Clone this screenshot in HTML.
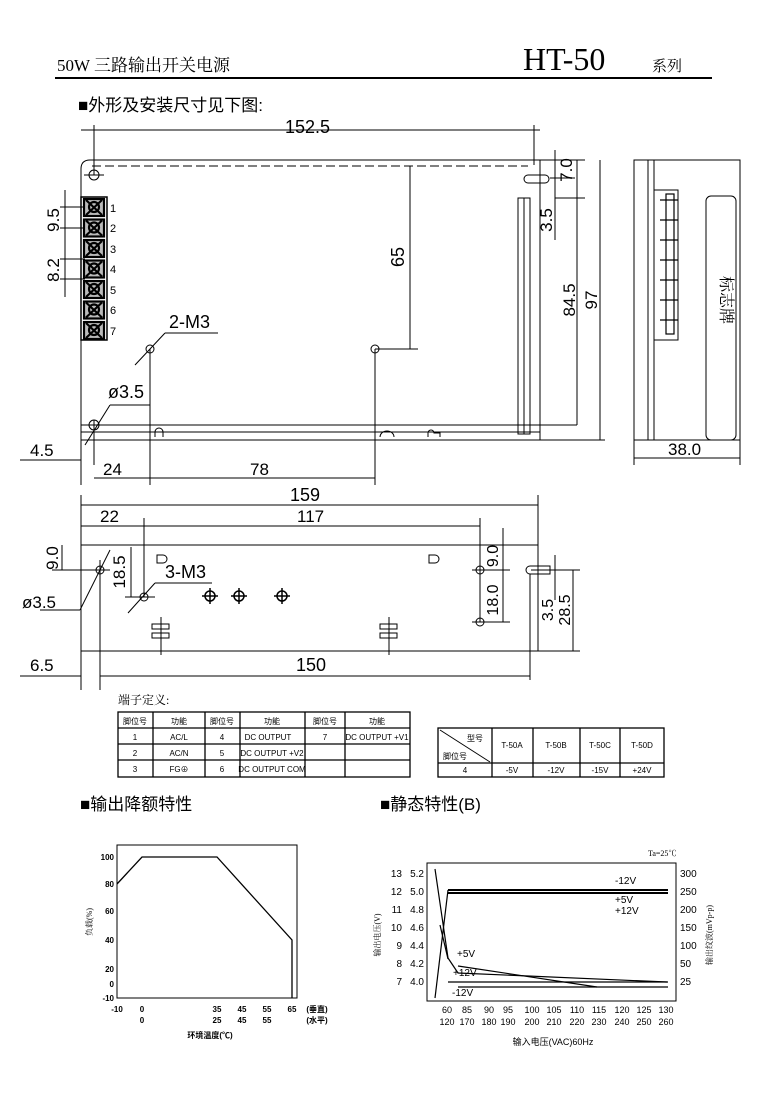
<!DOCTYPE html>
<html><head><meta charset="utf-8"><style>
body{margin:0;background:#fff}
svg{display:block}
text{font-family:"Liberation Sans","Noto Sans CJK SC",sans-serif;fill:#000}
.s{font-family:"Liberation Serif","Noto Serif CJK SC",serif}
</style></head><body>
<svg width="778" height="1101" viewBox="0 0 778 1101" xmlns="http://www.w3.org/2000/svg" stroke="#000" fill="none" stroke-width="1">
<!-- header -->
<text x="57" y="71" font-size="17" class="s" stroke="none">50W 三路输出开关电源</text>
<text x="523" y="70" font-size="32" class="s" stroke="none">HT-50</text>
<text x="652" y="71" font-size="15" class="s" stroke="none">系列</text>
<line x1="55" y1="78" x2="712" y2="78" stroke-width="2"/>
<text x="78" y="111" font-size="17" stroke="none">■外形及安装尺寸见下图:</text>

<!-- top view -->
<line x1="81" y1="130" x2="540" y2="130"/>
<line x1="94" y1="125" x2="94" y2="175"/>
<line x1="534" y1="125" x2="534" y2="165"/>
<text x="285" y="133" font-size="18" stroke="none">152.5</text>
<path d="M90 160 H540 V440 H81 V169 Q81 160 90 160 Z"/>
<line x1="92" y1="166" x2="528" y2="166" stroke-dasharray="9 4"/>
<circle cx="94" cy="175" r="5"/><line x1="84" y1="175" x2="104" y2="175"/>
<rect x="81" y="197" width="26" height="143" stroke-width="1.5"/>
<g stroke-width="2.2">
<g id="t"><rect x="84" y="199" width="20" height="17" fill="#bbb"/><line x1="86" y1="200" x2="102" y2="215"/><line x1="102" y1="200" x2="86" y2="215"/><circle cx="94" cy="207" r="5"/></g>
<use href="#t" y="20.5"/><use href="#t" y="41"/><use href="#t" y="61.5"/><use href="#t" y="82"/><use href="#t" y="102.5"/><use href="#t" y="123"/>
</g>
<g font-size="11" class="s" stroke="none"><text x="110" y="212">1</text><text x="110" y="232">2</text><text x="110" y="253">3</text><text x="110" y="273">4</text><text x="110" y="294">5</text><text x="110" y="314">6</text><text x="110" y="335">7</text></g>
<line x1="60" y1="207" x2="85" y2="207"/><line x1="60" y1="228" x2="85" y2="228"/>
<line x1="60" y1="259" x2="85" y2="259"/><line x1="60" y1="279" x2="85" y2="279"/>
<line x1="65" y1="190" x2="65" y2="297"/>
<text transform="translate(59,220) rotate(-90)" font-size="17" stroke="none" text-anchor="middle">9.5</text>
<text transform="translate(59,270) rotate(-90)" font-size="17" stroke="none" text-anchor="middle">8.2</text>
<line x1="81" y1="425" x2="540" y2="425"/><line x1="81" y1="432" x2="540" y2="432"/>
<circle cx="94" cy="425" r="5"/><line x1="94" y1="420" x2="94" y2="465"/>
<line x1="85" y1="445" x2="110" y2="405"/><line x1="110" y1="405" x2="150" y2="405"/>
<text x="108" y="398" font-size="18" stroke="none">ø3.5</text>
<circle cx="150" cy="349" r="4"/><line x1="150" y1="349" x2="150" y2="485"/>
<line x1="135" y1="365" x2="165" y2="333"/><line x1="165" y1="333" x2="218" y2="333"/>
<text x="169" y="328" font-size="18" stroke="none">2-M3</text>
<circle cx="375" cy="349" r="4"/><line x1="375" y1="349" x2="375" y2="485"/>
<line x1="375" y1="349" x2="418" y2="349"/><line x1="410" y1="166" x2="410" y2="349"/>
<text transform="translate(404,257) rotate(-90)" font-size="18" stroke="none" text-anchor="middle">65</text>
<path d="M155 437 v-5 a4 4 0 0 1 8 0 v5"/><path d="M380 437 a7 6 0 0 1 14 0"/><path d="M428 437 v-4 a3 3 0 0 1 6 0 h6 v4"/>
<rect x="518" y="198" width="12" height="236"/><line x1="524" y1="198" x2="524" y2="434"/>
<path d="M528 175 h17 a4 4 0 0 1 0 8 h-17 a4 4 0 0 1 0 -8z"/>
<line x1="540" y1="160" x2="585" y2="160"/><line x1="540" y1="440" x2="605" y2="440"/>
<line x1="550" y1="178" x2="575" y2="178"/><line x1="555" y1="198" x2="585" y2="198"/>
<line x1="577" y1="160" x2="577" y2="425"/><line x1="600" y1="160" x2="600" y2="440"/>
<line x1="577" y1="425" x2="540" y2="425"/>
<line x1="555" y1="150" x2="555" y2="240"/>
<text transform="translate(572,170) rotate(-90)" font-size="17" stroke="none" text-anchor="middle">7.0</text>
<text transform="translate(552,220) rotate(-90)" font-size="17" stroke="none" text-anchor="middle">3.5</text>
<text transform="translate(575,300) rotate(-90)" font-size="17" stroke="none" text-anchor="middle">84.5</text>
<text transform="translate(597,300) rotate(-90)" font-size="17" stroke="none" text-anchor="middle">97</text>
<line x1="20" y1="460" x2="81" y2="460"/><line x1="81" y1="440" x2="81" y2="485"/>
<text x="30" y="456" font-size="17" stroke="none">4.5</text>
<line x1="94" y1="478" x2="375" y2="478"/>
<text x="103" y="475" font-size="17" stroke="none">24</text>
<text x="250" y="475" font-size="17" stroke="none">78</text>

<!-- side view -->
<rect x="634" y="160" width="106" height="280"/>
<line x1="648" y1="160" x2="648" y2="440"/><line x1="654" y1="160" x2="654" y2="440"/>
<rect x="654" y="190" width="24" height="150"/>
<g stroke-width="1.2">
<line x1="660" y1="200" x2="678" y2="200"/><line x1="660" y1="220" x2="678" y2="220"/><line x1="660" y1="240" x2="678" y2="240"/><line x1="660" y1="260" x2="678" y2="260"/><line x1="660" y1="280" x2="678" y2="280"/><line x1="660" y1="300" x2="678" y2="300"/><line x1="660" y1="320" x2="678" y2="320"/>
<rect x="666" y="194" width="8" height="140"/>
</g>
<rect x="706" y="196" width="30" height="244" rx="5"/>
<text transform="translate(721,300) rotate(90)" font-size="16" stroke="none" text-anchor="middle" class="s">标志牌</text>
<line x1="634" y1="440" x2="634" y2="465"/><line x1="740" y1="440" x2="740" y2="465"/><line x1="634" y1="458" x2="740" y2="458"/>
<text x="668" y="455" font-size="17" stroke="none">38.0</text>

<!-- bottom view -->
<line x1="81" y1="505" x2="538" y2="505"/><line x1="538" y1="495" x2="538" y2="545"/><line x1="81" y1="495" x2="81" y2="690"/>
<text x="290" y="501" font-size="18" stroke="none">159</text>
<line x1="81" y1="526" x2="480" y2="526"/><line x1="144" y1="518" x2="144" y2="597"/><line x1="480" y1="518" x2="480" y2="622"/>
<text x="100" y="522" font-size="17" stroke="none">22</text>
<text x="297" y="522" font-size="17" stroke="none">117</text>
<rect x="81" y="545" width="457" height="106"/>
<line x1="52" y1="570" x2="110" y2="570"/><circle cx="100" cy="570" r="4"/><line x1="100" y1="560" x2="100" y2="690"/>
<line x1="80" y1="610" x2="110" y2="550"/><line x1="40" y1="610" x2="80" y2="610"/>
<text x="22" y="608" font-size="17" stroke="none">ø3.5</text>
<text transform="translate(58,558) rotate(-90)" font-size="17" stroke="none" text-anchor="middle">9.0</text>
<line x1="62" y1="545" x2="62" y2="570"/>
<circle cx="144" cy="597" r="4"/><line x1="125" y1="597" x2="155" y2="597"/>
<line x1="128" y1="613" x2="155" y2="583"/><line x1="155" y1="583" x2="212" y2="583"/>
<text x="165" y="578" font-size="18" stroke="none">3-M3</text>
<line x1="131" y1="547" x2="131" y2="597"/>
<text transform="translate(125,572) rotate(-90)" font-size="17" stroke="none" text-anchor="middle">18.5</text>
<g stroke-width="1.5"><circle cx="210" cy="596" r="5"/><line x1="202" y1="596" x2="218" y2="596"/><line x1="210" y1="588" x2="210" y2="604"/>
<circle cx="239" cy="596" r="5"/><line x1="231" y1="596" x2="247" y2="596"/><line x1="239" y1="588" x2="239" y2="604"/>
<circle cx="282" cy="596" r="5"/><line x1="274" y1="596" x2="290" y2="596"/><line x1="282" y1="588" x2="282" y2="604"/></g>
<path d="M157 555 h6 a4 4 0 0 1 0 8 h-6z"/><path d="M429 555 h6 a4 4 0 0 1 0 8 h-6z"/>
<rect x="152" y="624" width="17" height="5"/><rect x="152" y="633" width="17" height="5"/><line x1="161" y1="617" x2="161" y2="655"/>
<rect x="380" y="624" width="17" height="5"/><rect x="380" y="633" width="17" height="5"/><line x1="389" y1="617" x2="389" y2="655"/>
<circle cx="480" cy="570" r="4"/><line x1="472" y1="570" x2="510" y2="570"/>
<circle cx="480" cy="622" r="4"/><line x1="472" y1="622" x2="510" y2="622"/>
<line x1="503" y1="528" x2="503" y2="622"/>
<text transform="translate(498,556) rotate(-90)" font-size="16" stroke="none" text-anchor="middle">9.0</text>
<text transform="translate(498,600) rotate(-90)" font-size="16" stroke="none" text-anchor="middle">18.0</text>
<path d="M530 566 h20 v8 h-20 a4 4 0 0 1 0 -8z"/>
<line x1="531" y1="570" x2="545" y2="570"/><line x1="530" y1="574" x2="530" y2="680"/>
<line x1="555" y1="555" x2="555" y2="600"/><line x1="540" y1="570" x2="580" y2="570"/><line x1="538" y1="651" x2="580" y2="651"/>
<line x1="573" y1="570" x2="573" y2="651"/>
<text transform="translate(553,610) rotate(-90)" font-size="16" stroke="none" text-anchor="middle">3.5</text>
<text transform="translate(570,610) rotate(-90)" font-size="16" stroke="none" text-anchor="middle">28.5</text>
<line x1="20" y1="676" x2="81" y2="676"/><line x1="100" y1="676" x2="530" y2="676"/>
<text x="30" y="671" font-size="17" stroke="none">6.5</text>
<text x="296" y="671" font-size="18" stroke="none">150</text>

<!-- tables -->
<text x="118" y="704" font-size="12" class="s" stroke="none">端子定义:</text>
<g stroke-width="1.3">
<rect x="118" y="712" width="292" height="65"/>
<line x1="118" y1="728" x2="410" y2="728"/><line x1="118" y1="744" x2="410" y2="744"/><line x1="118" y1="760" x2="410" y2="760"/>
<line x1="153" y1="712" x2="153" y2="777"/><line x1="205" y1="712" x2="205" y2="777"/><line x1="240" y1="712" x2="240" y2="777"/><line x1="305" y1="712" x2="305" y2="777"/><line x1="345" y1="712" x2="345" y2="777"/>
<rect x="438" y="728" width="226" height="49"/><line x1="438" y1="763" x2="664" y2="763"/>
<line x1="492" y1="728" x2="492" y2="777"/><line x1="533" y1="728" x2="533" y2="777"/><line x1="580" y1="728" x2="580" y2="777"/><line x1="620" y1="728" x2="620" y2="777"/>
<line x1="440" y1="730" x2="490" y2="762" stroke-width="1"/>
</g>
<g font-size="8" class="s" stroke="none" text-anchor="middle">
<text x="135" y="724">脚位号</text><text x="179" y="724">功能</text><text x="222" y="724">脚位号</text><text x="272" y="724">功能</text><text x="325" y="724">脚位号</text><text x="377" y="724">功能</text>
<text x="135" y="740">1</text><text x="179" y="740">AC/L</text><text x="222" y="740">4</text><text x="268" y="740">DC OUTPUT</text><text x="325" y="740">7</text><text x="377" y="740">DC OUTPUT +V1</text>
<text x="135" y="756">2</text><text x="179" y="756">AC/N</text><text x="222" y="756">5</text><text x="272" y="756">DC OUTPUT +V2</text>
<text x="135" y="772">3</text><text x="179" y="772">FG⊕</text><text x="222" y="772">6</text><text x="272" y="772">DC OUTPUT COM</text>
<text x="475" y="741">型号</text><text x="455" y="759">脚位号</text>
<text x="512" y="748">T-50A</text><text x="556" y="748">T-50B</text><text x="600" y="748">T-50C</text><text x="642" y="748">T-50D</text>
<text x="465" y="773">4</text><text x="512" y="773">-5V</text><text x="556" y="773">-12V</text><text x="600" y="773">-15V</text><text x="642" y="773">+24V</text>
</g>

<!-- derating chart -->
<text x="80" y="810" font-size="17" stroke="none">■输出降额特性</text>
<rect x="117" y="845" width="180" height="153"/>
<path d="M117 884 L142 857 L217 857 L292 940 L292 998" stroke-width="1.3"/>
<g font-size="8" class="s" stroke="none" text-anchor="end" font-weight="bold">
<text x="114" y="860">100</text><text x="114" y="887">80</text><text x="114" y="914">60</text><text x="114" y="943">40</text><text x="114" y="972">20</text><text x="114" y="987">0</text><text x="114" y="1001">-10</text>
</g>
<g font-size="8" class="s" stroke="none" text-anchor="middle" font-weight="bold">
<text x="117" y="1012">-10</text><text x="142" y="1012">0</text><text x="217" y="1012">35</text><text x="242" y="1012">45</text><text x="267" y="1012">55</text><text x="292" y="1012">65</text>
<text x="142" y="1023">0</text><text x="217" y="1023">25</text><text x="242" y="1023">45</text><text x="267" y="1023">55</text>
<text x="317" y="1012">(垂直)</text><text x="317" y="1023">(水平)</text>
<text x="210" y="1038">环境温度(℃)</text>
</g>
<text transform="translate(92,922) rotate(-90)" font-size="8" class="s" stroke="none" text-anchor="middle">负载(%)</text>

<!-- static chart -->
<text x="380" y="810" font-size="17" stroke="none">■静态特性(B)</text>
<rect x="427" y="863" width="249" height="138"/>
<text x="648" y="856" font-size="8" class="s" stroke="none">Ta=25℃</text>
<g stroke-width="1.2">
<path d="M435 869 L448 958 L458 973 L667 982"/>
<path d="M435 998 L448 890"/>
<path d="M448 890 L668 890 M448 893 L668 893" stroke-width="2"/>
<path d="M448 982 L668 982 M458 987 L668 987"/>
<path d="M458 966 L597 987" />
<path d="M440 925 L448 959"/>
</g>
<g font-size="10" class="s" stroke="none" text-anchor="end">
<text x="402" y="877">13</text><text x="402" y="895">12</text><text x="402" y="913">11</text><text x="402" y="931">10</text><text x="402" y="949">9</text><text x="402" y="967">8</text><text x="402" y="985">7</text>
<text x="424" y="877">5.2</text><text x="424" y="895">5.0</text><text x="424" y="913">4.8</text><text x="424" y="931">4.6</text><text x="424" y="949">4.4</text><text x="424" y="967">4.2</text><text x="424" y="985">4.0</text>
</g>
<g font-size="10" class="s" stroke="none">
<text x="680" y="877">300</text><text x="680" y="895">250</text><text x="680" y="913">200</text><text x="680" y="931">150</text><text x="680" y="949">100</text><text x="680" y="967">50</text><text x="680" y="985">25</text>
<text x="615" y="884">-12V</text><text x="615" y="903">+5V</text><text x="615" y="914">+12V</text>
<text x="457" y="957">+5V</text><text x="453" y="976">+12V</text><text x="452" y="996">-12V</text>
</g>
<g font-size="9" class="s" stroke="none" text-anchor="middle">
<text x="447" y="1013">60</text><text x="467" y="1013">85</text><text x="489" y="1013">90</text><text x="508" y="1013">95</text><text x="532" y="1013">100</text><text x="554" y="1013">105</text><text x="577" y="1013">110</text><text x="599" y="1013">115</text><text x="622" y="1013">120</text><text x="644" y="1013">125</text><text x="666" y="1013">130</text>
<text x="447" y="1025">120</text><text x="467" y="1025">170</text><text x="489" y="1025">180</text><text x="508" y="1025">190</text><text x="532" y="1025">200</text><text x="554" y="1025">210</text><text x="577" y="1025">220</text><text x="599" y="1025">230</text><text x="622" y="1025">240</text><text x="644" y="1025">250</text><text x="666" y="1025">260</text>
<text x="553" y="1045">输入电压(VAC)60Hz</text>
</g>
<text transform="translate(380,935) rotate(-90)" font-size="8" class="s" stroke="none" text-anchor="middle">输出电压(V)</text>
<text transform="translate(712,935) rotate(-90)" font-size="8" class="s" stroke="none" text-anchor="middle">输出纹波(mVp-p)</text>
</svg>
</body></html>
